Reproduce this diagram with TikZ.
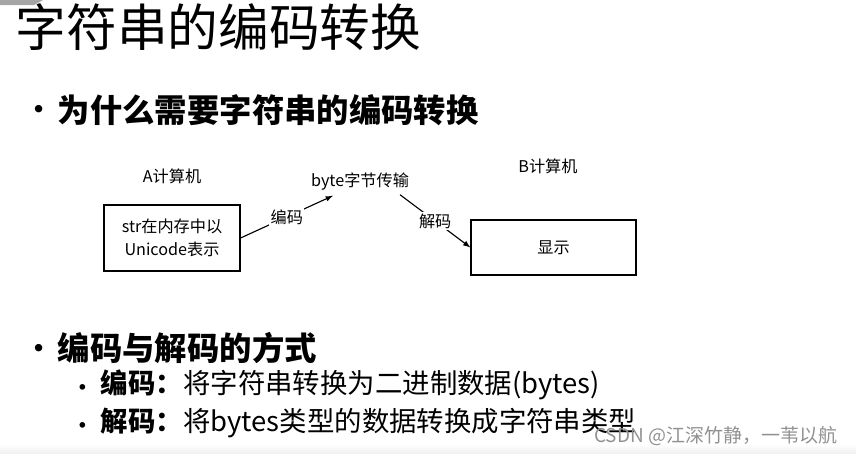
\documentclass[tikz,border=0pt]{standalone}
\usepackage{fontspec}
\setmainfont{Noto Sans CJK SC}
\usetikzlibrary{calc}
\definecolor{tabgray}{RGB}{165, 165, 165}
\definecolor{markgray}{RGB}{145, 145, 145}
\tikzset{
  pcbox/.style={draw=black, line width=0.8pt, align=center, inner sep=0pt,
                font=\fontsize{11.5}{16.5}\selectfont},
  pctag/.style={font=\fontsize{11.5}{14}\selectfont},
  flow/.style={-latex, line width=0.8pt},
  flowtag/.style={midway, fill=white, inner sep=1pt, font=\fontsize{11.5}{14}\selectfont},
  bigbullet/.style={font=\fontsize{25}{27}\selectfont},
  smallbullet/.style={font=\fontsize{19}{21}\selectfont},
  headline/.style={anchor=west, font=\bfseries\fontsize{23}{26}\selectfont},
  subline/.style={anchor=west, font=\fontsize{19.5}{22}\selectfont}
}
\begin{document}
\begin{tikzpicture}[x=0.025cm, y=-0.025cm]
  \useasboundingbox (0,0) rectangle (856,454);
  % page decorations
  \fill[tabgray] (0,0) -- (43,0) -- (34,5) -- (0,5) -- cycle;
  \shade[top color=white, bottom color=gray!12] (0,444) rectangle (856,454);
  % title
  \node[anchor=west, font=\fontsize{36}{40}\selectfont] (title) at (11,27) {字符串的编码转换};
  % first point
  \node[bigbullet] (b1) at (39,114) {•};
  \node[headline] (why) at (53,110) {为什么需要字符串的编码转换};
  % the two computers
  \node[pctag] (pcA) at (172,176) {A计算机};
  \node[pcbox, minimum width=3.4cm, minimum height=1.65cm] (boxA) at (172,238)
       {str在内存中以\\Unicode表示};
  \node[pctag] (byte) at (360,182) {byte字节传输};
  \node[pctag] (pcB) at (548,166) {B计算机};
  \node[pcbox, minimum width=4.125cm, minimum height=1.375cm] (boxB) at (553.5,247.5) {显示};
  \draw[flow] (boxA.east) -- ($(byte.south)+(-27,0)$) node[flowtag] {编码};
  \draw[flow] ($(byte.south)+(40,-1)$) -- (boxB.west) node[flowtag] {解码};
  % second point
  \node[bigbullet] (b2) at (39,353) {•};
  \node[headline] (how) at (53,348) {编码与解码的方式};
  \node[smallbullet] (b3) at (83,391) {•};
  \node[subline] (enc) at (96,385) {\textbf{编码：}将字符串转换为二进制数据(bytes)};
  \node[smallbullet] (b4) at (83,429) {•};
  \node[subline] (dec) at (96,423) {\textbf{解码：}将bytes类型的数据转换成字符串类型};
  % watermark
  \node[anchor=east, text=markgray, font=\fontsize{13.5}{15}\selectfont] (mark) at (842,436)
       {CSDN @江深竹静，一苇以航};
\end{tikzpicture}
\end{document}
